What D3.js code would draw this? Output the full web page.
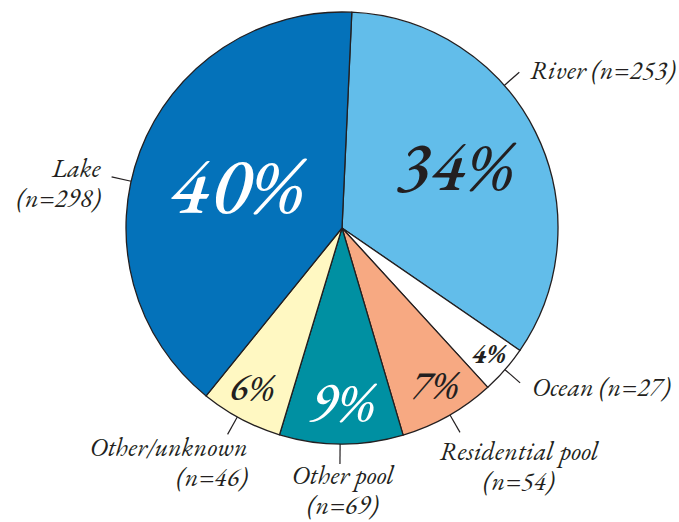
<!DOCTYPE html>
<html><head><meta charset="utf-8">
<script src="https://cdn.jsdelivr.net/npm/d3@7"></script>
<style>
html,body{margin:0;padding:0;background:#fff;}
</style></head>
<body><svg id="chart" width="679" height="522"></svg>
<script>
const categories = ["River","Ocean","Residential pool","Other pool","Other/unknown","Lake"];
const counts = [253,27,54,69,46,298];
const percentLabels = ["34%","4%","7%","9%","6%","40%"];
const labelLines = [["River (n=253)"],["Ocean (n=27)"],["Residential pool","(n=54)"],["Other pool","(n=69)"],["Other/unknown","(n=46)"],["Lake","(n=298)"]];

const colors = ["#62BDEA","#FFFFFF","#F7A982","#0090A2","#FFF8C2","#0472BA"];
const pctColors = ["#231F20","#231F20","#231F20","#FFFFFF","#231F20","#FFFFFF"];
const pctSize = [70,27,40,56,38,80];
const pctWeight = [500,700,500,500,500,500];
const pctPos = [[455,190],[489,363],[435,398],[342,421],[252,400],[237,213]];
const leaderDeg = [48.7,131,150,180.5,209,282.5];
const labelAnchor = ["start","start","middle","middle","end","end"];
const labelXY = [[530,79],[532,396],[519,460],[343,484],[248,456],[101,177]];
const lineGap = 30;
const FONT = "'EB Garamond', 'Times New Roman', serif";

const svg = d3.select("#chart");
const cx = 342, cy = 228, R = 216;
const g = svg.append("g").attr("transform",`translate(${cx},${cy})`);
const startOffset = 2.6*Math.PI/180;
const pie = d3.pie().sort(null).value(d=>d).startAngle(startOffset).endAngle(startOffset+2*Math.PI);
const arc = d3.arc().innerRadius(0).outerRadius(R);
const arcs = pie(counts);

g.selectAll("path.slice").data(arcs).join("path")
  .attr("class","slice")
  .attr("d",arc)
  .attr("fill",(d,i)=>colors[i])
  .attr("stroke","#231F20")
  .attr("stroke-width",1.3)
  .attr("stroke-linejoin","round");

leaderDeg.forEach((deg,i)=>{
  const a = deg*Math.PI/180;
  const r0 = R, r1 = R+20;
  g.append("line")
    .attr("x1",Math.sin(a)*r0).attr("y1",-Math.cos(a)*r0)
    .attr("x2",Math.sin(a)*r1).attr("y2",-Math.cos(a)*r1)
    .attr("stroke","#231F20").attr("stroke-width",1.2);
});

percentLabels.forEach((t,i)=>{
  svg.append("text")
    .attr("x",pctPos[i][0]).attr("y",pctPos[i][1])
    .attr("text-anchor","middle")
    .attr("font-family",FONT)
    .attr("font-style","italic")
    .attr("font-size",pctSize[i])
    .attr("font-weight",pctWeight[i])
    .attr("fill",pctColors[i])
    .text(t);
});

labelLines.forEach((lines,i)=>{
  lines.forEach((ln,j)=>{
    svg.append("text")
      .attr("x",labelXY[i][0]).attr("y",labelXY[i][1]+j*lineGap)
      .attr("text-anchor",labelAnchor[i])
      .attr("font-family",FONT)
      .attr("font-style","italic")
      .attr("font-size",26)
      .attr("letter-spacing",0.25)
      .attr("fill","#231F20")
      .text(ln);
  });
});
</script></body></html>
